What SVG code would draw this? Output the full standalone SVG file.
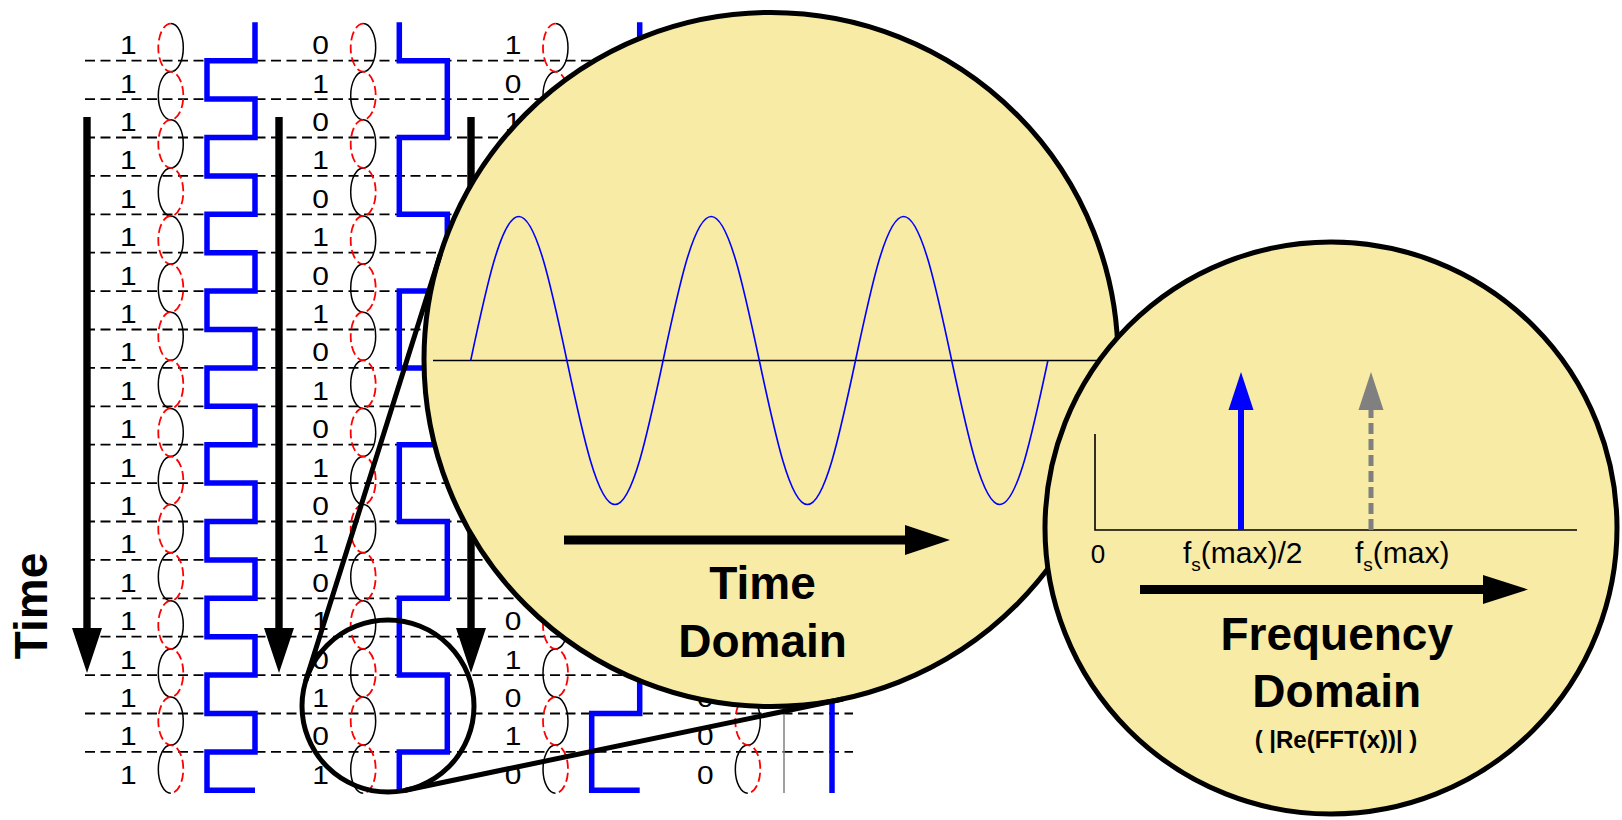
<svg xmlns="http://www.w3.org/2000/svg" xmlns:xlink="http://www.w3.org/1999/xlink" width="1622" height="820" viewBox="0 0 1622 820">
<defs>
<style>
.dash{fill:none;stroke:#000;stroke-width:1.8;stroke-dasharray:10 5.5}
.lbl{font-family:"Liberation Sans",Arial,sans-serif;font-size:26px;text-anchor:middle;fill:#000}
.wave{fill:none;stroke:#0000FF;stroke-width:5.5;stroke-linejoin:miter;stroke-linecap:butt}
.blk{fill:none;stroke:#000;stroke-width:1.5}
.red{fill:none;stroke:#FF0000;stroke-width:1.8;stroke-dasharray:9 4}
.big{font-family:"Liberation Sans",Arial,sans-serif;font-size:46px;font-weight:bold;text-anchor:middle;fill:#000}
.small{font-family:"Liberation Sans",Arial,sans-serif;font-size:24px;font-weight:bold;text-anchor:middle;fill:#000}
.ax{fill:none;stroke:#000;stroke-width:1.6}
.lens{fill:#F7EBA6;stroke:#000;stroke-width:5}
.flab{font-family:"Liberation Sans",Arial,sans-serif;font-size:30px;fill:#000}
</style>
<g id="chain">
<path class="blk" d="M0,23.6 A12.5,24.05 0 0 1 0,71.7 A12.5,24.05 0 0 0 0,119.8 A12.5,24.05 0 0 1 0,167.9 A12.5,24.05 0 0 0 0,216 A12.5,24.05 0 0 1 0,264.1 A12.5,24.05 0 0 0 0,312.2 A12.5,24.05 0 0 1 0,360.3 A12.5,24.05 0 0 0 0,408.4 A12.5,24.05 0 0 1 0,456.5 A12.5,24.05 0 0 0 0,504.6 A12.5,24.05 0 0 1 0,552.7 A12.5,24.05 0 0 0 0,600.8 A12.5,24.05 0 0 1 0,648.9 A12.5,24.05 0 0 0 0,697 A12.5,24.05 0 0 1 0,745.1 A12.5,24.05 0 0 0 0,793.2"/>
<path class="red" d="M0,23.6 A12.5,24.05 0 0 0 0,71.7 A12.5,24.05 0 0 1 0,119.8 A12.5,24.05 0 0 0 0,167.9 A12.5,24.05 0 0 1 0,216 A12.5,24.05 0 0 0 0,264.1 A12.5,24.05 0 0 1 0,312.2 A12.5,24.05 0 0 0 0,360.3 A12.5,24.05 0 0 1 0,408.4 A12.5,24.05 0 0 0 0,456.5 A12.5,24.05 0 0 1 0,504.6 A12.5,24.05 0 0 0 0,552.7 A12.5,24.05 0 0 1 0,600.8 A12.5,24.05 0 0 0 0,648.9 A12.5,24.05 0 0 1 0,697 A12.5,24.05 0 0 0 0,745.1 A12.5,24.05 0 0 1 0,793.2"/>
</g>
</defs>
<rect width="1622" height="820" fill="#FFFFFF"/>

<g id="grid-lines">
<path class="dash" d="M85,60.7H853M85,99.1H853M85,137.5H853M85,175.9H853M85,214.3H853M85,252.7H853M85,291.1H853M85,329.5H853M85,367.9H853M85,406.3H853M85,444.7H853M85,483.1H853M85,521.5H853M85,559.9H853M85,598.3H853M85,636.7H853M85,675.1H853M85,713.5H853M85,751.9H853"/>
</g>

<g id="col1">
<g transform="translate(128.3 0) scale(1.15 1)">
<text class="lbl" x="0" y="54.3">1</text><text class="lbl" x="0" y="92.7">1</text><text class="lbl" x="0" y="131.1">1</text><text class="lbl" x="0" y="169.5">1</text><text class="lbl" x="0" y="207.9">1</text><text class="lbl" x="0" y="246.3">1</text><text class="lbl" x="0" y="284.7">1</text><text class="lbl" x="0" y="323.1">1</text><text class="lbl" x="0" y="361.5">1</text><text class="lbl" x="0" y="399.9">1</text><text class="lbl" x="0" y="438.3">1</text><text class="lbl" x="0" y="476.7">1</text><text class="lbl" x="0" y="515.1">1</text><text class="lbl" x="0" y="553.5">1</text><text class="lbl" x="0" y="591.9">1</text><text class="lbl" x="0" y="630.3">1</text><text class="lbl" x="0" y="668.7">1</text><text class="lbl" x="0" y="707.1">1</text><text class="lbl" x="0" y="745.5">1</text><text class="lbl" x="0" y="783.9">1</text>
</g>
<use xlink:href="#chain" href="#chain" x="170.8" y="0"/>
<path class="wave" d="M255,22.3V60.7H207V99.1H255V137.5H207V175.9H255V214.3H207V252.7H255V291.1H207V329.5H255V367.9H207V406.3H255V444.7H207V483.1H255V521.5H207V559.9H255V598.3H207V636.7H255V675.1H207V713.5H255V751.9H207V790.3H255"/>
</g>

<g id="col2">
<g transform="translate(320.6 0) scale(1.15 1)">
<text class="lbl" x="0" y="54.3">0</text><text class="lbl" x="0" y="92.7">1</text><text class="lbl" x="0" y="131.1">0</text><text class="lbl" x="0" y="169.5">1</text><text class="lbl" x="0" y="207.9">0</text><text class="lbl" x="0" y="246.3">1</text><text class="lbl" x="0" y="284.7">0</text><text class="lbl" x="0" y="323.1">1</text><text class="lbl" x="0" y="361.5">0</text><text class="lbl" x="0" y="399.9">1</text><text class="lbl" x="0" y="438.3">0</text><text class="lbl" x="0" y="476.7">1</text><text class="lbl" x="0" y="515.1">0</text><text class="lbl" x="0" y="553.5">1</text><text class="lbl" x="0" y="591.9">0</text><text class="lbl" x="0" y="630.3">1</text><text class="lbl" x="0" y="668.7">0</text><text class="lbl" x="0" y="707.1">1</text><text class="lbl" x="0" y="745.5">0</text><text class="lbl" x="0" y="783.9">1</text>
</g>
<use xlink:href="#chain" href="#chain" x="363.2" y="0"/>
<path class="wave" d="M399.3,22.3V60.7H447.3V137.5H399.3V214.3H447.3V291.1H399.3V367.9H447.3V444.7H399.3V521.5H447.3V598.3H399.3V675.1H447.3V751.9H399.3V792"/>
</g>

<g id="col3">
<g transform="translate(513 0) scale(1.15 1)">
<text class="lbl" x="0" y="54.3">1</text><text class="lbl" x="0" y="92.7">0</text><text class="lbl" x="0" y="131.1">1</text><text class="lbl" x="0" y="630.3">0</text><text class="lbl" x="0" y="668.7">1</text><text class="lbl" x="0" y="707.1">0</text><text class="lbl" x="0" y="745.5">1</text><text class="lbl" x="0" y="783.9">0</text>
</g>
<use xlink:href="#chain" href="#chain" x="555.5" y="0"/>
<path class="wave" d="M639.7,22.3V99.1H591.7V175.9H639.7V252.7H591.7V329.5H639.7V406.3H591.7V483.1H639.7V559.9H591.7V636.7H639.7V713.5H591.7V790.3H639.7"/>
</g>

<g id="col4">
<g transform="translate(705.3 0) scale(1.15 1)">
<text class="lbl" x="0" y="707.1">0</text><text class="lbl" x="0" y="745.5">0</text><text class="lbl" x="0" y="783.9">0</text>
</g>
<use xlink:href="#chain" href="#chain" x="747.8" y="0"/>
<line x1="784" y1="22.3" x2="784" y2="793" stroke="#808080" stroke-width="1.5"/>
<line x1="832" y1="22.3" x2="832" y2="793" stroke="#0000FF" stroke-width="5.5"/>
</g>

<g id="time-arrows">
<rect x="83.3" y="117" width="7.4" height="513"/>
<polygon points="72,628 102,628 87,673"/>
<rect x="275.3" y="117" width="7.4" height="513"/>
<polygon points="264,628 294,628 279,673"/>
<rect x="467.3" y="117" width="7.4" height="513"/>
<polygon points="456,628 486,628 471,673"/>
<text class="big" transform="translate(47,606) rotate(-90)">Time</text>
</g>

<g id="time-domain">
<circle class="lens" cx="771" cy="359.5" r="347"/>
<line class="ax" x1="433" y1="360.5" x2="1110" y2="360.5"/>
<path fill="none" stroke="#0000FF" stroke-width="1.6" d="M470.7,360.5 C486.39,286.73 501.39,216.5 518.8,216.5 C536.21,216.5 551.21,286.73 566.9,360.5 C582.59,434.27 597.59,504.5 615,504.5 C632.41,504.5 647.41,434.27 663.1,360.5 C678.79,286.73 693.79,216.5 711.2,216.5 C728.61,216.5 743.61,286.73 759.3,360.5 C774.99,434.27 789.99,504.5 807.4,504.5 C824.81,504.5 839.81,434.27 855.5,360.5 C871.19,286.73 886.19,216.5 903.6,216.5 C921.01,216.5 936.01,286.73 951.7,360.5 C967.39,434.27 982.39,504.5 999.8,504.5 C1017.21,504.5 1032.21,434.27 1047.9,360.5"/>
<rect x="564" y="535.5" width="342" height="9"/>
<polygon points="905,525 905,555 950,540"/>
<text class="big" x="762.5" y="599">Time</text>
<text class="big" x="762.5" y="657">Domain</text>
</g>

<g id="connectors">
<line x1="306" y1="680" x2="440.1" y2="255.1" stroke="#000" stroke-width="5" stroke-linecap="round"/>
<line x1="405.6" y1="790.2" x2="841.9" y2="699.2" stroke="#000" stroke-width="5" stroke-linecap="round"/>
</g>

<g id="magnifier">
<circle cx="388" cy="706" r="86" fill="none" stroke="#000" stroke-width="5"/>
</g>

<g id="frequency-domain">
<circle class="lens" cx="1331" cy="528" r="286"/>
<path class="ax" d="M1095,434V530H1577"/>
<rect x="1238" y="408" width="6" height="122" fill="#0000FF"/>
<polygon points="1228.5,410 1253.5,410 1241,372" fill="#0000FF"/>
<line x1="1371" y1="530" x2="1371" y2="410" stroke="#808080" stroke-width="5" stroke-dasharray="11 5"/>
<polygon points="1358.5,410 1383.5,410 1371,372" fill="#808080"/>
<text class="flab" x="1098" y="563" text-anchor="middle" style="font-size:26px">0</text>
<text class="flab" x="1183" y="563">f<tspan style="font-size:19px" dy="8">s</tspan><tspan dy="-8">(max)/2</tspan></text>
<text class="flab" x="1355" y="563">f<tspan style="font-size:19px" dy="8">s</tspan><tspan dy="-8">(max)</tspan></text>
<rect x="1140" y="585" width="344" height="9"/>
<polygon points="1483,575 1483,604 1528,589.5"/>
<text class="big" x="1336.7" y="650">Frequency</text>
<text class="big" x="1336.7" y="706.7">Domain</text>
<text class="small" x="1336" y="748">( |Re(FFT(x))| )</text>
</g>
</svg>
